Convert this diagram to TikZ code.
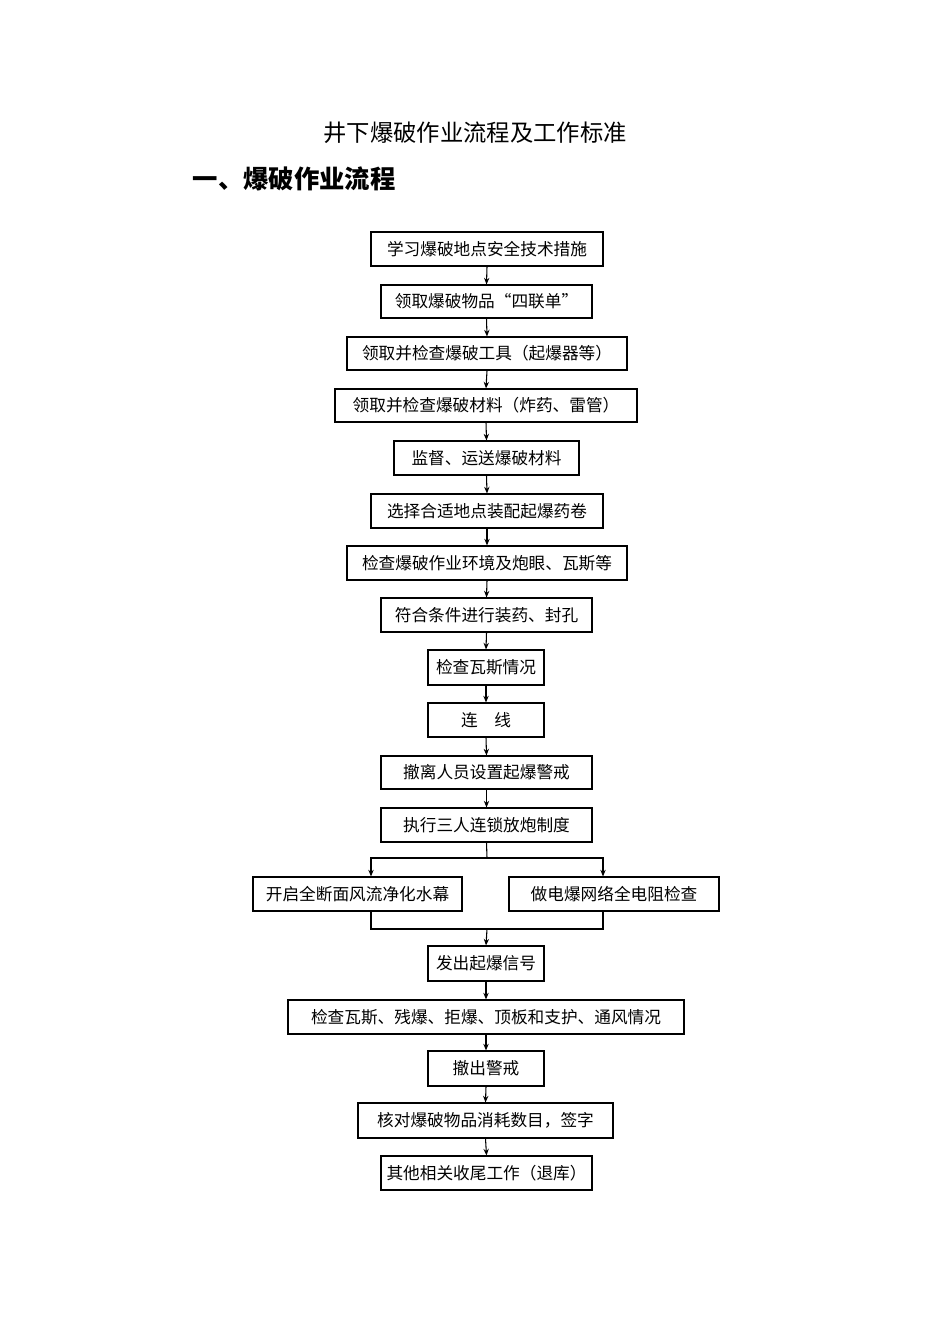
\documentclass[tikz,border=0pt]{standalone}
\usepackage{fontspec}
\setmainfont{Noto Sans CJK SC}
\usetikzlibrary{arrows.meta}
\begin{document}
\begin{tikzpicture}[x=0.75pt,y=-0.75pt,
  bx/.style={draw,line width=0.8pt,inner sep=0pt,font=\fontsize{12.5}{14}\selectfont},
  ln/.style={line width=0.8pt},
  ar/.style={line width=0.8pt,-{Stealth[length=5pt,width=4pt]}}]
\useasboundingbox (0,0) rectangle (950,1344);
\node (title) at (475,133) {\fontsize{17.5}{20}\selectfont 井下爆破作业流程及工作标准};
\node[anchor=west] (head) at (188,179) {\fontsize{19}{22}\selectfont\bfseries 一、爆破作业流程};
\def\B#1#2#3#4#5#6{\node[bx,minimum width={(#4-#2)*0.75pt},minimum height={(#5-#3)*0.75pt}] (#1) at ({(#2+#4)/2},{(#3+#5)/2}) {#6};}
\B{b1}{371}{232}{603}{266}{学习爆破地点安全技术措施}
\B{b2}{381}{285}{592}{318}{领取爆破物品“四联单”}
\B{b3}{347}{337}{627}{370}{领取并检查爆破工具（起爆器等）}
\B{b4}{335}{389}{637}{422}{领取并检查爆破材料（炸药、雷管）}
\B{b5}{394}{441}{579}{475}{监督、运送爆破材料}
\B{b6}{371}{494}{603}{528}{选择合适地点装配起爆药卷}
\B{b7}{347}{546}{627}{580}{检查爆破作业环境及炮眼、瓦斯等}
\B{b8}{381}{598}{592}{632}{符合条件进行装药、封孔}
\B{b9}{428}{650}{544}{685}{检查瓦斯情况}
\B{b10}{428}{703}{544}{737}{连\quad 线}
\B{b11}{381}{756}{592}{789}{撤离人员设置起爆警戒}
\B{b12}{381}{808}{592}{842}{执行三人连锁放炮制度}
\B{l13}{253}{877}{462}{911}{开启全断面风流净化水幕}
\B{r13}{509}{877}{719}{911}{做电爆网络全电阻检查}
\B{b14}{428}{946}{544}{981}{发出起爆信号}
\B{b15}{288}{1000}{684}{1034}{检查瓦斯、残爆、拒爆、顶板和支护、通风情况}
\B{b16}{428}{1051}{544}{1086}{撤出警戒}
\B{b17}{358}{1103}{613}{1138}{核对爆破物品消耗数目，签字}
\B{b18}{381}{1156}{592}{1190}{其他相关收尾工作（退库）}
\foreach \a/\b in {b1/b2,b2/b3,b3/b4,b4/b5,b5/b6,b6/b7,b7/b8,b8/b9,b9/b10,b10/b11,b11/b12,b14/b15,b15/b16,b16/b17,b17/b18}
  \draw[ar] (\a.south) -- (\b.north);
\coordinate (f) at (487,858);
\coordinate (j) at (487,929);
\draw[ln] (b12.south) -- (f);
\draw[ar] (f) -| (l13.north-|371,0);
\draw[ar] (f) -| (r13.north-|603,0);
\draw[ln] (l13.south-|371,0) |- (j) -| (r13.south-|603,0);
\draw[ar] (j) -- (b14.north);
\end{tikzpicture}
\end{document}
